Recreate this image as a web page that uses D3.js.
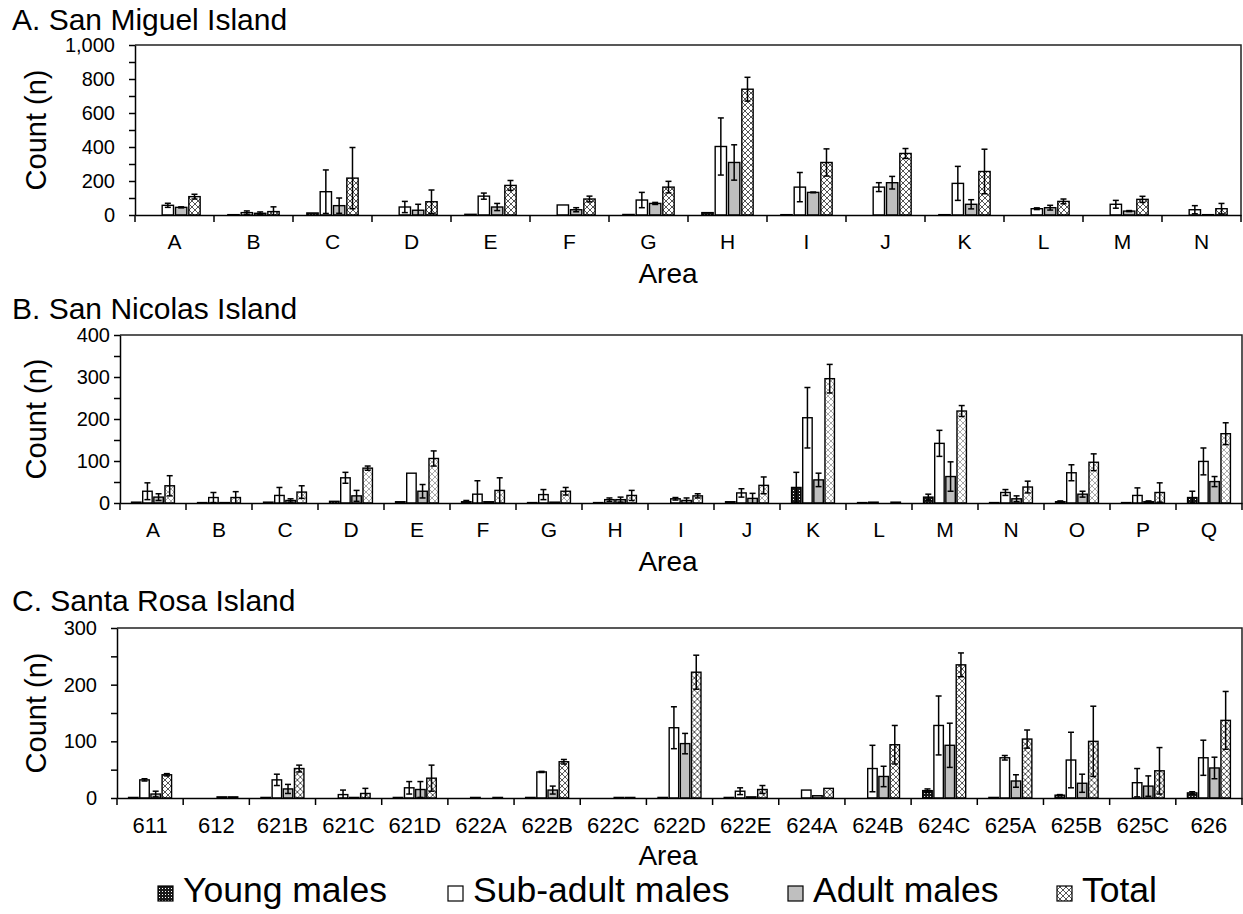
<!DOCTYPE html>
<html lang="en">
<head>
<meta charset="UTF-8">
<title>Counts by area</title>
<style>
  body { margin: 0; background: #fff; }
  text { font-family: "Liberation Sans", Arial, sans-serif; fill: #000; }
</style>
</head>
<body>
<div id="chart"></div>
<script src="https://d3js.org/d3.v7.min.js"></script>
<script>
// ---- data ----
const seriesNames = ["Young males", "Sub-adult males", "Adult males", "Total"];

const miguelAreas = ["A","B","C","D","E","F","G","H","I","J","K","L","M","N"];
const miguelYoung    = [0, 2, 12, 0, 4, 0, 3, 14, 2, 0, 2, 0, 0, 0];
const miguelYoungErr = [0, 0, 0, 0, 0, 0, 0, 0, 0, 0, 0, 0, 0, 0];
const miguelSub      = [57, 14, 137, 47, 111, 59, 88, 403, 164, 164, 186, 37, 63, 31];
const miguelSubErr   = [12, 10, 128, 33, 18, 0, 45, 168, 86, 26, 100, 5, 23, 24];
const miguelAdult    = [45, 10, 55, 28, 47, 31, 68, 309, 133, 190, 63, 43, 23, 2];
const miguelAdultErr = [3, 8, 45, 35, 21, 12, 6, 104, 2, 37, 27, 14, 3, 0];
const miguelTotal    = [108, 20, 217, 78, 174, 94, 164, 740, 309, 362, 256, 80, 92, 37];
const miguelTotalErr = [14, 28, 180, 69, 29, 17, 34, 70, 80, 29, 131, 14, 18, 31];

const nicolasAreas = ["A","B","C","D","E","F","G","H","I","J","K","L","M","N","O","P","Q"];
const nicolasYoung    = [2, 1, 2, 4, 3, 3, 1, 1, 0, 3, 37, 1, 14, 1, 3, 1, 13];
const nicolasYoungErr = [0, 0, 0, 0, 0, 3, 0, 0, 0, 0, 36, 0, 7, 0, 2, 0, 15];
const nicolasSub      = [28, 13, 18, 60, 71, 21, 20, 8, 10, 24, 203, 2, 142, 25, 72, 18, 99];
const nicolasSubErr   = [20, 12, 19, 13, 0, 32, 12, 4, 3, 10, 72, 0, 31, 7, 19, 18, 32];
const nicolasAdult    = [14, 1, 6, 17, 28, 3, 2, 8, 6, 11, 55, 0, 63, 10, 21, 3, 51];
const nicolasAdultErr = [8, 0, 4, 13, 16, 0, 0, 6, 6, 12, 16, 0, 35, 7, 7, 2, 12];
const nicolasTotal    = [41, 13, 26, 83, 106, 30, 28, 18, 17, 42, 296, 2, 219, 38, 97, 25, 165];
const nicolasTotalErr = [24, 14, 15, 5, 18, 30, 9, 12, 5, 20, 34, 0, 13, 14, 20, 23, 26];

const rosaAreas = ["611","612","621B","621C","621D","622A","622B","622C","622D","622E","624A","624B","624C","625A","625B","625C","626"];
const rosaYoung    = [1, 0, 1, 0, 1, 0, 1, 0, 1, 1, 0, 0, 13, 1, 5, 0, 9];
const rosaYoungErr = [0, 0, 0, 0, 0, 0, 0, 0, 0, 0, 0, 0, 3, 0, 1, 0, 2];
const rosaSub      = [32, 0, 32, 6, 18, 1, 46, 0, 124, 12, 14, 52, 128, 71, 67, 27, 71];
const rosaSubErr   = [2, 0, 10, 8, 11, 0, 1, 0, 37, 6, 0, 41, 52, 4, 49, 25, 31];
const rosaAdult    = [7, 2, 16, 1, 15, 0, 14, 1, 96, 2, 4, 38, 93, 30, 26, 21, 53];
const rosaAdultErr = [5, 0, 8, 0, 14, 0, 7, 0, 18, 0, 0, 18, 39, 11, 16, 18, 19];
const rosaTotal    = [41, 2, 52, 8, 35, 1, 64, 1, 222, 15, 17, 94, 235, 104, 100, 48, 137];
const rosaTotalErr = [2, 0, 6, 9, 23, 0, 4, 0, 30, 7, 0, 34, 21, 16, 62, 41, 51];

const width = 1243, height = 914;

const svg = d3.select("#chart").append("svg")
    .attr("width", width)
    .attr("height", height);

// ---- patterns ----
const defs = svg.append("defs");
const dots = defs.append("pattern")
    .attr("id", "young").attr("patternUnits", "userSpaceOnUse")
    .attr("width", 3).attr("height", 3);
dots.append("rect").attr("width", 3).attr("height", 3).attr("fill", "#1a1a1a");
dots.append("rect").attr("x", 1).attr("y", 1).attr("width", 1).attr("height", 1).attr("fill", "#fff");

function hatch(id, color) {
  const p = defs.append("pattern")
      .attr("id", id).attr("patternUnits", "userSpaceOnUse")
      .attr("width", 6).attr("height", 6);
  p.append("rect").attr("width", 6).attr("height", 6).attr("fill", "#fff");
  p.append("path")
      .attr("d", "M0,0L6,6M6,0L0,6M-1,5L1,7M5,-1L7,1M-1,1L1,-1M5,7L7,5")
      .attr("stroke", color).attr("stroke-width", 1).attr("fill", "none");
}
hatch("hatchDark", "#555");
hatch("hatchLight", "#aaa");

function fills(total) { return ["url(#young)", "#fff", "#bfbfbf", total]; }

const panels = [
  { title: "A. San Miguel Island", areas: miguelAreas,
    values: [miguelYoung, miguelSub, miguelAdult, miguelTotal],
    errs: [miguelYoungErr, miguelSubErr, miguelAdultErr, miguelTotalErr],
    max: 1000, minor: 100, major: 200, left: 135, right: 1241, top: 45, bottom: 215,
    titleY: 30, tickPad: 14, labelY: 283, xFont: 21, fill: fills("url(#hatchDark)") },
  { title: "B. San Nicolas Island", areas: nicolasAreas,
    values: [nicolasYoung, nicolasSub, nicolasAdult, nicolasTotal],
    errs: [nicolasYoungErr, nicolasSubErr, nicolasAdultErr, nicolasTotalErr],
    max: 400, minor: 50, major: 100, left: 120, right: 1242, top: 335, bottom: 503,
    titleY: 319, tickPad: 4, labelY: 571, xFont: 21, fill: fills("url(#hatchLight)") },
  { title: "C. Santa Rosa Island", areas: rosaAreas,
    values: [rosaYoung, rosaSub, rosaAdult, rosaTotal],
    errs: [rosaYoungErr, rosaSubErr, rosaAdultErr, rosaTotalErr],
    max: 300, minor: 50, major: 100, left: 117, right: 1242, top: 628, bottom: 798,
    titleY: 611, tickPad: 14, labelY: 865, xFont: 22, fill: fills("url(#hatchDark)") }
];

panels.forEach(drawPanel);

function drawPanel(p) {
  const g = svg.append("g");

  const x0 = d3.scaleBand().domain(p.areas).range([p.left, p.right]);
  const x1 = d3.scaleBand().domain(d3.range(4))
      .range([x0.bandwidth() * 0.15, x0.bandwidth() * 0.85]).padding(0.15);
  const y = d3.scaleLinear().domain([0, p.max]).range([p.bottom, p.top]);

  const rows = p.areas.map((a, i) => ({
    area: a,
    bars: d3.range(4).map(k => ({ k, v: p.values[k][i], e: p.errs[k][i] }))
  }));

  // frame (top and right)
  g.append("path")
      .attr("d", `M${p.left},${p.top}H${p.right}V${p.bottom}`)
      .attr("fill", "none").attr("stroke", "#222").attr("stroke-width", 1.5);

  // bars
  const grp = g.append("g").selectAll("g").data(rows).join("g")
      .attr("transform", d => `translate(${x0(d.area)},0)`);

  grp.selectAll("rect").data(d => d.bars).join("rect")
      .attr("x", d => x1(d.k))
      .attr("width", x1.bandwidth())
      .attr("y", d => y(d.v))
      .attr("height", d => y(0) - y(d.v))
      .attr("fill", d => p.fill[d.k])
      .attr("stroke", "#000")
      .attr("stroke-width", 1.4);

  // error bars
  const eb = grp.selectAll("g.err").data(d => d.bars.filter(b => b.e > 0)).join("g")
      .attr("class", "err")
      .attr("stroke", "#000").attr("stroke-width", 1.5);
  const cx = d => x1(d.k) + x1.bandwidth() / 2;
  const capW = 3;
  eb.append("line")
      .attr("x1", cx).attr("x2", cx)
      .attr("y1", d => y(Math.max(0, d.v - d.e)))
      .attr("y2", d => y(d.v + d.e));
  eb.append("line")
      .attr("x1", d => cx(d) - capW).attr("x2", d => cx(d) + capW)
      .attr("y1", d => y(d.v + d.e)).attr("y2", d => y(d.v + d.e));
  eb.filter(d => d.v - d.e > 0).append("line")
      .attr("x1", d => cx(d) - capW).attr("x2", d => cx(d) + capW)
      .attr("y1", d => y(d.v - d.e)).attr("y2", d => y(d.v - d.e));

  // y axis
  const fmt = d3.format(",");
  const yAxis = g.append("g")
      .attr("transform", `translate(${p.left},0)`)
      .call(d3.axisLeft(y)
        .tickValues(d3.range(0, p.max + 1, p.minor))
        .tickFormat(d => d % p.major === 0 ? fmt(d) : "")
        .tickSize(6).tickSizeOuter(0).tickPadding(p.tickPad));
  yAxis.selectAll("path, line").attr("stroke", "#000").attr("stroke-width", 1.5);
  yAxis.selectAll("text").attr("font-size", 20).attr("fill", "#000")
      .style("font-family", '"Liberation Sans", Arial, sans-serif');

  // x axis: labels at centres, ticks at boundaries
  const xAxis = g.append("g")
      .attr("transform", `translate(0,${p.bottom})`)
      .call(d3.axisBottom(x0).tickSize(0).tickSizeOuter(0).tickPadding(19));
  xAxis.select("path").attr("stroke", "#000").attr("stroke-width", 1.5);
  xAxis.selectAll("text").attr("font-size", p.xFont).attr("fill", "#000")
      .style("font-family", '"Liberation Sans", Arial, sans-serif');
  g.append("g").selectAll("line")
      .data(p.areas.map(a => x0(a)).concat([p.right]))
      .join("line")
      .attr("x1", d => d).attr("x2", d => d)
      .attr("y1", p.bottom).attr("y2", p.bottom + 7)
      .attr("stroke", "#000").attr("stroke-width", 1.5);

  // titles
  g.append("text").attr("x", 12).attr("y", p.titleY)
      .attr("font-size", 30).text(p.title);
  g.append("text")
      .attr("transform", `translate(46,${(p.top + p.bottom) / 2}) rotate(-90)`)
      .attr("text-anchor", "middle").attr("font-size", 29).text("Count (n)");
  g.append("text").attr("x", 668).attr("y", p.labelY)
      .attr("text-anchor", "middle").attr("font-size", 28).text("Area");
}

// legend
const legendX = [158, 448, 788, 1057];
const legendFill = ["url(#young)", "#fff", "#bfbfbf", "url(#hatchDark)"];
const leg = svg.append("g").selectAll("g").data(seriesNames).join("g")
    .attr("transform", (d, i) => `translate(${legendX[i]},902)`);
leg.append("rect")
    .attr("x", 0).attr("y", -16).attr("width", 15).attr("height", 15)
    .attr("fill", (d, i) => legendFill[i])
    .attr("stroke", "#000").attr("stroke-width", 1.2);
leg.append("text")
    .attr("x", 25).attr("y", 0)
    .attr("font-size", 35.5).text(d => d);
</script>
</body>
</html>
